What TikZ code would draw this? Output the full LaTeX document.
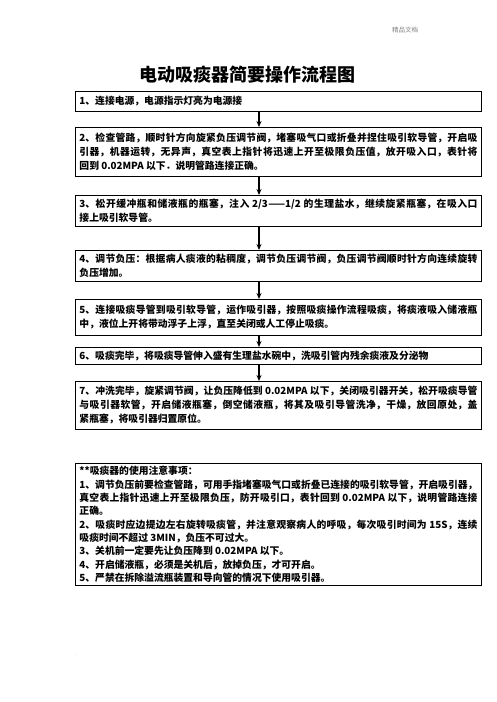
\documentclass[tikz,border=0pt]{standalone}
\usepackage{fontspec}
\usepackage{tikz}
\usetikzlibrary{arrows.meta, positioning}
\newfontfamily\cjk{Noto Sans CJK SC}
\XeTeXlinebreaklocale "zh"
\XeTeXlinebreakskip = 0pt plus 1pt minus 0.2pt

\begin{document}
\begin{tikzpicture}[x=1pt, y=-1pt,
    stepbox/.style={draw, line width=0.9pt, anchor=north west, text width=398pt,
        inner xsep=4pt, inner ysep=3pt, align=justify,
        font=\cjk\bfseries\fontsize{9.8}{14}\selectfont},
    flow/.style={line width=1.8pt, -{Stealth[length=6pt, width=5pt]}}]
                \useasboundingbox (0,0) rectangle (496,702);
                \node[gray, font=\cjk\fontsize{6.5}{7}\selectfont] (hdr) at (405,30) {精品文档};
                \node[font=\cjk\bfseries\fontsize{18}{18}\selectfont] (title) at (247,75) {电动吸痰器简要操作流程图};
                \coordinate (axis) at (259,0);
                
                \node[stepbox, minimum height=20pt] (s1) at (75,91) {1、连接电源，电源指示灯亮为电源接};
                \node[stepbox, minimum height=49pt] (s2) at (75,127) {2、检查管路，顺时针方向旋紧负压调节阀，堵塞吸气口或折叠并捏住吸引软导管，开启吸\linebreak 引器，机器运转，无异声，真空表上指针将迅速上开至极限负压值，放开吸入口，表针将\linebreak 回到 0.02MPA 以下．说明管路连接正确。};
                \node[stepbox, minimum height=31pt] (s3) at (75,195) {3、松开缓冲瓶和储液瓶的瓶塞，注入 2/3——1/2 的生理盐水，继续旋紧瓶塞，在吸入口\linebreak 接上吸引软导管。};
                \node[stepbox, minimum height=31pt] (s4) at (75,250) {4、调节负压：根据病人痰液的粘稠度，调节负压调节阀，负压调节阀顺时针方向连续旋转\linebreak 负压增加。};
                \node[stepbox, minimum height=36pt] (s5) at (75,299) {5、连接吸痰导管到吸引软导管，运作吸引器，按照吸痰操作流程吸痰，将痰液吸入储液瓶\linebreak 中，液位上开将带动浮子上浮，直至关闭或人工停止吸痰。};
                \node[stepbox, minimum height=17pt] (s6) at (75,347) {6、吸痰完毕，将吸痰导管伸入盛有生理盐水碗中，洗吸引管内残余痰液及分泌物};
                \node[stepbox, inner ysep=5pt] (s7) at (75,381) {7、冲洗完毕，旋紧调节阀，让负压降低到 0.02MPA 以下，关闭吸引器开关，松开吸痰导管\linebreak 与吸引器软管，开启储液瓶塞，倒空储液瓶，将其及吸引导管洗净，干燥，放回原处，盖\linebreak 紧瓶塞，将吸引器归置原位。\par\vspace*{16pt}};
                
                % notes
                \node[stepbox, font=\cjk\bfseries\fontsize{9.8}{13.3}\selectfont] (notes) at (75,463) {**吸痰器的使用注意事项：\\
                    1、调节负压前要检查管路，可用手指堵塞吸气口或折叠已连接的吸引软导管，开启吸引器，\linebreak 真空表上指针迅速上开至极限负压，防开吸引口，表针回到 0.02MPA 以下，说明管路连接\linebreak 正确。\\
                    2、吸痰时应边提边左右旋转吸痰管，并注意观察病人的呼吸，每次吸引时间为 15S，连续\linebreak 吸痰时间不超过 3MIN，负压不可过大。\\
                    3、关机前一定要先让负压降到 0.02MPA 以下。\\
                    4、开启储液瓶，必须是关机后，放掉负压，才可开启。\\
                    5、严禁在拆除溢流瓶装置和导向管的情况下使用吸引器。\par\vspace*{6pt}};
                
                \node[gray, font=\tiny] (dot) at (76,655) {.};
                
                \draw[flow] (s1.south -| axis) -- (s2.north -| axis);
                \draw[flow] (s2.south -| axis) -- (s3.north -| axis);
                \draw[flow] (s3.south -| axis) -- (s4.north -| axis);
                \draw[flow] (s4.south -| axis) -- (s5.north -| axis);
                \draw[flow] (s5.south -| axis) -- (s6.north -| axis);
                \draw[flow] (s6.south -| axis) -- (s7.north -| axis);
            \end{tikzpicture}
\end{document}
